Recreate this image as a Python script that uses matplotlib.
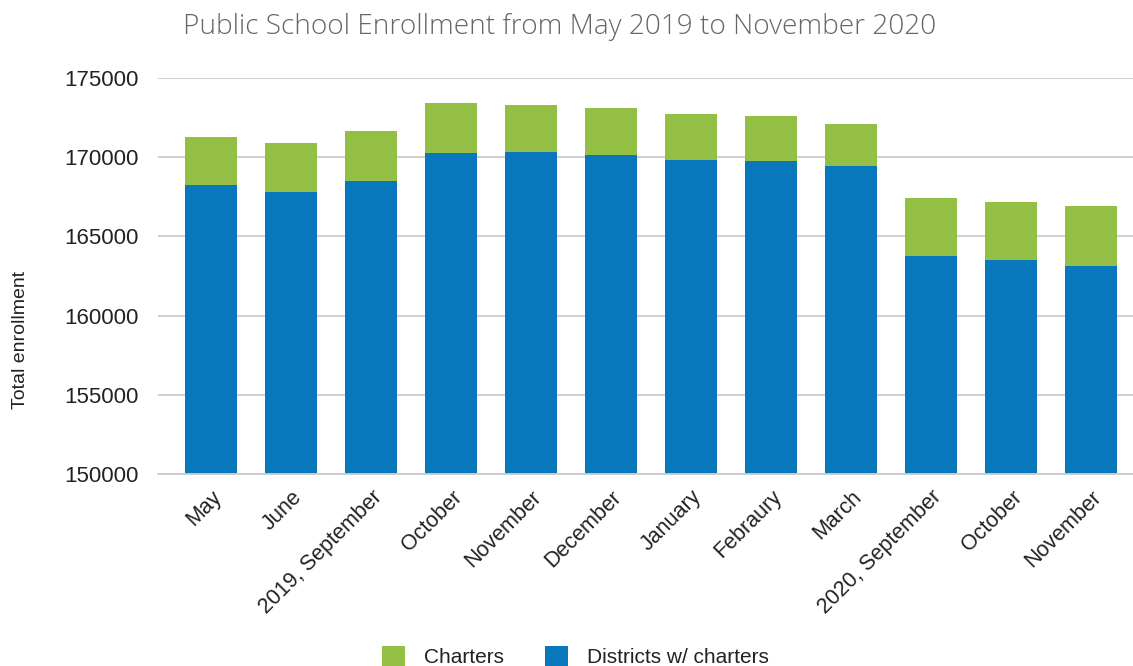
import matplotlib
matplotlib.use("Agg")
import matplotlib.pyplot as plt
import numpy as np

categories = ["May", "June", "2019, September", "October", "November", "December",
              "January", "Febraury", "March", "2020, September", "October", "November"]
districts = [168230, 167790, 168490, 170250, 170320, 170130, 169810, 169750, 169430,
             163750, 163500, 163120]
totals = [171260, 170880, 171640, 173410, 173280, 173090, 172710, 172590, 172080,
          167410, 167160, 166900]
charters = [t - d for t, d in zip(totals, districts)]
yticks = [150000, 155000, 160000, 165000, 170000, 175000]

plt.rcParams['font.family'] = ['Liberation Sans', 'DejaVu Sans']
green = "#94BF45"
blue = "#0877BB"

fig = plt.figure(figsize=(11.33, 6.66), dpi=100)
ax = fig.add_axes([0.1395, 0.2883, 0.8605, 0.5946])
x = np.arange(len(categories))
w = 0.65
ax.bar(x, np.array(districts) - 150000, bottom=150000, width=w, color=blue, zorder=3,
       label="Districts w/ charters")
ax.bar(x, charters, bottom=districts, width=w, color=green, zorder=3, label="Charters")
ax.set_ylim(150000, 175000)
ax.set_xlim(-0.665, 11.52)
ax.set_yticks(yticks)
ax.set_yticklabels([str(v) for v in yticks], fontsize=16, color="#222222")
ax.yaxis.grid(True, color="#cccccc", linewidth=1.3, zorder=0)
ax.tick_params(axis='y', length=0, pad=14)
ax.tick_params(axis='x', length=0, pad=9)
ax.set_xticks(x)
ax.set_xticklabels(categories, rotation=45, ha='right', va='top', rotation_mode='anchor',
                   fontsize=15.5, color="#222222")
for s in ["top", "right", "left"]:
    ax.spines[s].set_visible(False)
ax.spines["bottom"].set_color("#cccccc")
ax.spines["bottom"].set_linewidth(1.3)
ax.spines["bottom"].set_zorder(4)

fig.text(0.0185, 0.49, "Total enrollment", rotation=90, ha='center', va='center',
         fontsize=14, color="#222222")
fig.text(0.494, 0.959, "Public School Enrollment from May 2019 to November 2020",
         ha='center', va='center', fontsize=20.2, color="#666666",
         family=['Open Sans', 'DejaVu Sans'], fontweight='light')

handles, labels = ax.get_legend_handles_labels()
leg = fig.legend([handles[1], handles[0]], [labels[1], labels[0]], loc='lower center',
                 bbox_to_anchor=(0.508, -0.03), ncol=2, frameon=False, fontsize=15,
                 handlelength=1.1, handleheight=1.1, columnspacing=2.0, handletextpad=0.9)
for t in leg.get_texts():
    t.set_color("#222222")

fig.savefig("out.png", dpi=100)
